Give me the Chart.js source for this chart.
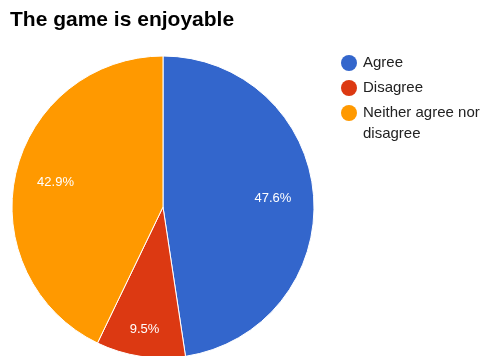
<!DOCTYPE html>
<html>
<head>
<meta charset="utf-8">
<script src="https://cdn.jsdelivr.net/npm/chart.js@4.4.1/dist/chart.umd.min.js"></script>
<style>
  html, body { margin: 0; padding: 0; background: #fff; overflow: hidden; }
  #wrap { width: 493px; height: 356px; }
</style>
</head>
<body>
<div id="wrap"><canvas id="myChart" width="493" height="356"></canvas></div>
<script>
// Umfrageergebnis
const chartTitle = "The game is enjoyable";
const answers = ["Agree", "Disagree", "Neither agree nor disagree"];
const votes = [10, 2, 9];
const percentLabels = ["47.6%", "9.5%", "42.9%"];
const sliceColors = ["#3366cc", "#dc3912", "#ff9900"];

// Prozentwerte in die Segmente schreiben
const sliceLabels = {
  id: "sliceLabels",
  afterDatasetsDraw(chart) {
    const ctx = chart.ctx;
    const arcs = chart.getDatasetMeta(0).data;
    ctx.save();
    ctx.fillStyle = "#ffffff";
    ctx.font = "13px 'Liberation Sans', Arial, sans-serif";
    ctx.textAlign = "center";
    ctx.textBaseline = "middle";
    arcs.forEach((arc, i) => {
      const mid = (arc.startAngle + arc.endAngle) / 2;
      const share = (arc.endAngle - arc.startAngle) / (2 * Math.PI);
      const r = arc.outerRadius * (share < 0.15 ? 0.82 : 0.73);
      ctx.fillText(percentLabels[i], arc.x + Math.cos(mid) * r, arc.y + Math.sin(mid) * r);
    });
    ctx.restore();
  }
};

// Titel und Legende selbst zeichnen
const titleAndLegend = {
  id: "titleAndLegend",
  afterDraw(chart) {
    const ctx = chart.ctx;
    ctx.save();
    ctx.fillStyle = "#000000";
    ctx.font = "bold 21px 'Liberation Sans', Arial, sans-serif";
    ctx.textAlign = "left";
    ctx.textBaseline = "alphabetic";
    ctx.fillText(chartTitle, 10, 26);

    ctx.font = "15px 'Liberation Sans', Arial, sans-serif";
    ctx.textBaseline = "middle";
    let y = 63;
    answers.forEach((name, i) => {
      ctx.beginPath();
      ctx.arc(349, y, 8, 0, 2 * Math.PI);
      ctx.fillStyle = sliceColors[i];
      ctx.fill();
      ctx.fillStyle = "#222222";
      // lange Einträge umbrechen
      const lines = name === "Neither agree nor disagree" ? ["Neither agree nor", "disagree"] : [name];
      lines.forEach((line, k) => {
        ctx.fillText(line, 363, y + k * 20.5);
      });
      y += 25;
    });
    ctx.restore();
  }
};

const ctx = document.getElementById("myChart").getContext("2d");
new Chart(ctx, {
  type: "pie",
  data: {
    labels: answers,
    datasets: [
      {
        data: votes,
        backgroundColor: sliceColors,
        hoverBackgroundColor: sliceColors,
        borderColor: "#ffffff",
        borderWidth: 1,
        hoverOffset: 0,
        radius: 151,
        clip: false,
      },
    ],
  },
  options: {
    responsive: false,
    animation: false,
    layout: { padding: { left: 0, right: 167, top: 58, bottom: 0 } },
    plugins: {
      legend: { display: false },
      title: { display: false },
      tooltip: { enabled: false },
    },
  },
  plugins: [sliceLabels, titleAndLegend],
});
</script>
</body>
</html>
